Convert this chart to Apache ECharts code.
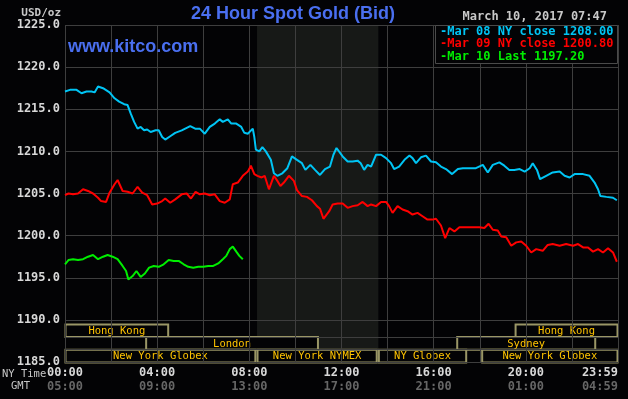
<!DOCTYPE html>
<html>
<head>
<meta charset="utf-8">
<script src="https://cdn.jsdelivr.net/npm/echarts@6/dist/echarts.min.js"></script>
<style>
  html, body { margin: 0; padding: 0; background: #030305; }
  #chart { width: 628px; height: 399px; }
</style>
</head>
<body>
<div id="chart"></div>
<script>
// minutes after 00:00 NY time, and spot price in USD/oz
const cyanT = [0,13,30,43,56,69,77,86,99,116,129,141,154,163,171,180,189,197,206,214,223,236,244,253,261,274,287,304,317,326,339,351,364,377,390,403,411,424,433,446,459,467,476,489,493,497,506,514,523,536,544,553,566,579,591,604,617,626,639,651,664,677,690,699,707,
  723,736,749,762,770,779,788,797,810,823,836,849,857,870,884,897,905,914,927,940,953,966,979,992,1008,1023,1036,1053,1070,1088,1101,1114,1131,1144,1157,1170,1184,1197,1210,1218,1229,1237,1253,1270,1288,1301,1314,1327,1349,1366,1379,1388,1394,1410,1427,1437]
const cyanV = [1217.1,1217.3,1217.3,1216.9,1217.1,1217.1,1217.0,1217.7,1217.5,1217.0,1216.3,1215.9,1215.6,1215.5,1214.5,1213.5,1212.7,1212.9,1212.5,1212.6,1212.3,1212.5,1212.5,1211.7,1211.4,1211.8,1212.2,1212.5,1212.8,1213.0,1212.7,1212.7,1212.1,1212.9,1213.3,1213.8,1213.5,1213.8,1213.3,1213.3,1212.9,1212.2,1212.1,1212.7,1211.7,1210.2,1210.0,1210.5,1210.0,1209.0,1207.4,1207.1,1207.4,1208.0,1209.4,1209.0,1208.6,1207.8,1208.4,1207.8,1207.2,1207.9,1208.2,1209.6,1210.4,
  1209.4,1208.8,1208.8,1208.9,1208.6,1207.8,1208.4,1208.2,1209.6,1209.6,1209.2,1208.6,1207.9,1208.2,1209.0,1209.5,1209.2,1208.6,1209.3,1209.5,1208.8,1208.7,1208.2,1207.9,1207.3,1207.9,1208.0,1208.0,1208.0,1208.4,1207.5,1208.4,1208.7,1208.3,1207.8,1207.8,1207.9,1207.6,1208.0,1208.6,1207.8,1206.7,1207.1,1207.5,1207.6,1207.1,1206.9,1207.3,1207.3,1207.1,1206.3,1205.5,1204.7,1204.6,1204.5,1204.2]

const redT = [0,9,21,34,47,60,73,86,94,107,116,129,137,150,163,176,189,201,214,227,240,253,261,274,287,304,317,328,340,351,364,377,390,403,416,429,437,450,463,476,484,493,501,512,520,531,544,553,561,570,583,596,604,617,630,643,656,664,673,688,
  697,710,723,736,749,762,775,788,797,810,823,836,844,853,866,879,892,905,918,931,944,957,966,979,990,1001,1014,1027,1053,1079,1092,1103,1114,1127,1136,1149,1162,1175,1188,1201,1214,1227,1244,1257,1270,1288,1305,1323,1336,1349,1362,1375,1388,1401,1414,1427,1437]
const redV = [1204.8,1205.0,1204.9,1205.0,1205.5,1205.3,1205.0,1204.5,1204.1,1204.0,1205.1,1206.1,1206.6,1205.3,1205.2,1205.0,1205.8,1205.1,1204.8,1203.7,1203.8,1204.1,1204.4,1203.9,1204.3,1204.9,1205.0,1204.4,1205.2,1204.9,1205.0,1204.8,1204.9,1204.1,1203.9,1204.3,1206.1,1206.3,1207.1,1207.6,1208.3,1207.3,1207.1,1206.9,1207.1,1205.5,1207.1,1206.5,1205.9,1206.3,1207.1,1206.5,1205.4,1204.7,1204.6,1204.2,1203.5,1203.2,1202.0,1202.9,
  1203.7,1203.8,1203.8,1203.3,1203.5,1203.6,1204.0,1203.5,1203.7,1203.5,1204.0,1204.0,1203.5,1202.7,1203.5,1203.1,1202.9,1202.5,1202.7,1202.3,1201.9,1201.9,1202.0,1201.2,1199.7,1200.9,1200.5,1201.0,1201.0,1201.0,1200.9,1201.4,1200.7,1200.6,1199.9,1199.8,1198.8,1199.2,1199.3,1198.8,1198.0,1198.4,1198.2,1198.9,1199.0,1198.8,1199.0,1198.8,1199.0,1198.6,1198.6,1198.1,1198.4,1198.0,1198.5,1198.0,1196.9]

const greenT = [0,9,21,34,47,60,73,86,99,111,124,137,150,159,165,176,186,197,208,219,231,244,257,270,283,296,309,321,334,347,360,373,386,399,411,420,429,437,446,454,463]
const greenV = [1196.6,1197.1,1197.2,1197.1,1197.2,1197.5,1197.7,1197.2,1197.5,1197.7,1197.5,1197.2,1196.4,1195.8,1194.8,1195.2,1195.8,1195.1,1195.5,1196.2,1196.4,1196.3,1196.6,1197.1,1197.0,1197.0,1196.6,1196.3,1196.2,1196.3,1196.3,1196.4,1196.4,1196.7,1197.2,1197.6,1198.4,1198.7,1198.1,1197.6,1197.2]

const legendLabels = ['Mar 08 NY close', 'Mar 09 NY close', 'Mar 10 Last']
const legendValues = ['1208.00', '1200.80', '1197.20']
const lineColors = ['#00c4f4', '#ff0000', '#00ee00']

// x tick labels every 4 hours
const nyLabels = ['00:00', '04:00', '08:00', '12:00', '16:00', '20:00', '23:59']
const gmtLabels = ['05:00', '09:00', '13:00', '17:00', '21:00', '01:00', '04:59']

// trading sessions (row 0 = top)
const sessionNames = ['Hong Kong', 'Hong Kong', 'London', 'Sydney', 'New York Globex', 'New York NYMEX', 'NY Globex', 'New York Globex']
const sessionRow = [0, 0, 1, 1, 2, 2, 2, 2]
const sessionStart = [0, 1172, 210, 1020, 0, 500, 816, 1085]
const sessionEnd = [270, 1440, 660, 1382, 497, 813, 1046, 1440]
const nymexShade = [500, 816]

const zip = (t, v) => t.map((x, i) => [x, v[i]])

const mono = '"DejaVu Sans Mono", monospace'
const gridColor = '#3e3e3e'
const bg = '#030305'

const chart = echarts.init(document.getElementById('chart'))

const renderShade = (params, api) => {
  const a = api.coord([api.value(0), 1225])
  const b = api.coord([api.value(1), 1185])
  return {
    type: 'rect',
    shape: { x: a[0], y: a[1], width: b[0] - a[0], height: b[1] - a[1] },
    style: { fill: '#171917' }
  }
}

const renderSession = (params, api) => {
  const x0 = api.coord([api.value(0), 1190])
  const x1 = api.coord([api.value(1), 1185])
  const top = x0[1] + 4
  const rowH = (x1[1] - top) / 3
  const y = top + api.value(2) * rowH
  return {
    type: 'group',
    children: [
      {
        type: 'rect',
        shape: { x: x0[0] + 0.5, y: y + 0.5, width: x1[0] - x0[0] - 1, height: rowH },
        style: { fill: bg, stroke: '#9a9666', lineWidth: 2 }
      },
      {
        type: 'text',
        style: {
          text: sessionNames[params.dataIndex], x: (x0[0] + x1[0]) / 2, y: y + rowH / 2 + 1,
          align: 'center', verticalAlign: 'middle',
          fill: '#ffc400', font: '10.5px ' + mono
        }
      }
    ]
  }
}

const renderRowLine = (params, api) => {
  const a = api.coord([0, 1190])
  const b = api.coord([1440, 1185])
  const top = a[1] + 4
  const rowH = (b[1] - top) / 3
  const y = Math.round(top + api.value(0) * rowH) + 0.5
  return {
    type: 'line',
    shape: { x1: a[0], y1: y, x2: b[0], y2: y },
    style: { stroke: gridColor, lineWidth: 1 }
  }
}

chart.setOption({
  backgroundColor: bg,
  animation: false,
  grid: { left: 65, right: 10, top: 25, bottom: 37 },
  xAxis: {
    type: 'value', min: 0, max: 1440, interval: 120,
    axisLine: { show: false }, axisTick: { show: false },
    splitLine: { show: true, lineStyle: { color: gridColor, width: 1 } },
    axisLabel: {
      margin: 4,
      alignMaxLabel: 'right',
      formatter: (v) => {
        if (v % 240 !== 0) return ''
        const i = v / 240
        return '{a|' + nyLabels[i] + '}\n{b|' + gmtLabels[i] + '}'
      },
      rich: {
        a: { color: '#d8d8d8', fontFamily: mono, fontWeight: 'bold', fontSize: 12, lineHeight: 14 },
        b: { color: '#666', fontFamily: mono, fontWeight: 'bold', fontSize: 12, lineHeight: 14 }
      }
    }
  },
  yAxis: {
    type: 'value', min: 1185, max: 1225, interval: 5,
    axisLine: { show: false }, axisTick: { show: false },
    splitLine: { show: true, lineStyle: { color: gridColor, width: 1 } },
    axisLabel: {
      margin: 5, color: '#d8d8d8', fontFamily: mono, fontWeight: 'bold', fontSize: 12,
      formatter: (v) => v.toFixed(1)
    }
  },
  graphic: [
    { type: 'text', z: 10, style: { text: '24 Hour Spot Gold (Bid)', x: 293, y: 14, align: 'center', verticalAlign: 'middle', fill: '#4a6ff0', font: 'bold 18px "Liberation Sans", Arial, sans-serif' } },
    { type: 'text', z: 10, style: { text: 'www.kitco.com', x: 68, y: 47, align: 'left', verticalAlign: 'middle', fill: '#4a6ff0', font: 'bold 18px "Liberation Sans", Arial, sans-serif' } },
    { type: 'text', z: 10, style: { text: 'USD/oz', x: 61, y: 13, align: 'right', verticalAlign: 'middle', fill: '#c8c8c8', font: 'bold 11px ' + mono } },
    { type: 'text', z: 10, style: { text: 'March 10, 2017 07:47', x: 607, y: 17, align: 'right', verticalAlign: 'middle', fill: '#c8c8c8', font: 'bold 12px ' + mono } },
    { type: 'text', z: 10, style: { text: 'NY Time', x: 2, y: 374, align: 'left', verticalAlign: 'middle', fill: '#c8c8c8', font: '10.5px ' + mono } },
    { type: 'text', z: 10, style: { text: 'GMT', x: 11, y: 386, align: 'left', verticalAlign: 'middle', fill: '#c8c8c8', font: '10.5px ' + mono } },
    { type: 'rect', z: 10, shape: { x: 435.5, y: 25.5, width: 182, height: 38 }, style: { fill: bg, stroke: '#4a4a4a', lineWidth: 1 } },
    ...legendLabels.map((l, i) => ({
      type: 'text', z: 11,
      style: { text: '-' + l + ' ' + legendValues[i], x: 440, y: 32 + i * 12.3, align: 'left', verticalAlign: 'middle', fill: lineColors[i], font: 'bold 12px ' + mono }
    }))
  ],
  series: [
    {
      type: 'custom', z: -2, silent: true,
      renderItem: renderShade,
      encode: { x: [0, 1] },
      data: [nymexShade]
    },
    {
      type: 'custom', z: -1, silent: true,
      renderItem: renderSession,
      encode: { x: [0, 1] },
      data: sessionNames.map((n, i) => [sessionStart[i], sessionEnd[i], sessionRow[i]])
    },
    {
      type: 'custom', z: 1, silent: true,
      renderItem: renderRowLine,
      data: [[1], [2]]
    },
    { type: 'line', data: zip(cyanT, cyanV), showSymbol: false, lineStyle: { color: lineColors[0], width: 2 }, z: 3 },
    { type: 'line', data: zip(redT, redV), showSymbol: false, lineStyle: { color: lineColors[1], width: 2 }, z: 3 },
    { type: 'line', data: zip(greenT, greenV), showSymbol: false, lineStyle: { color: lineColors[2], width: 2 }, z: 3 }
  ]
})
</script>
</body>
</html>
